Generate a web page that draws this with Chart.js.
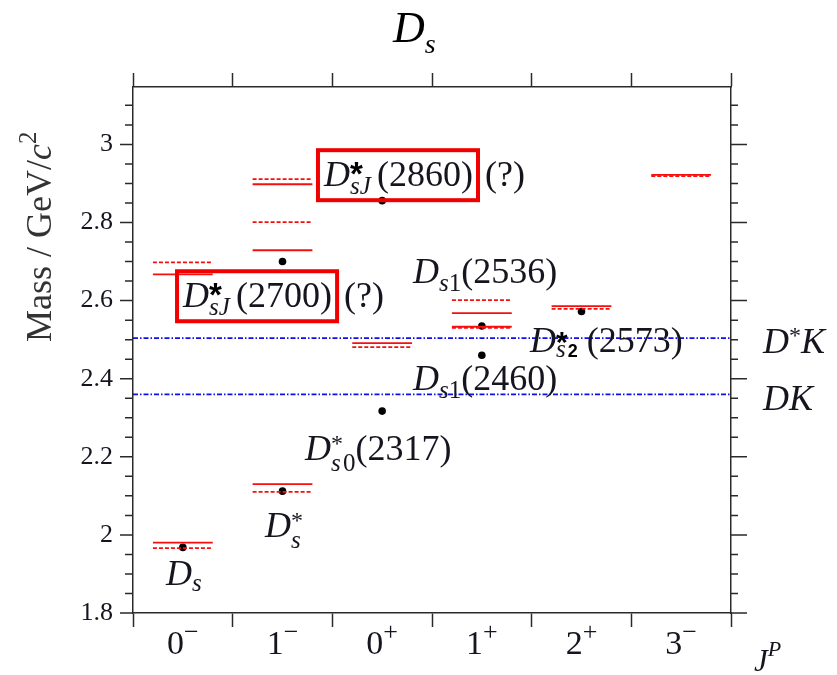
<!DOCTYPE html>
<html>
<head>
<meta charset="utf-8">
<script src="https://cdn.jsdelivr.net/npm/chart.js@4"></script>
<style>
  body { margin: 0; background: #fff; }
</style>
</head>
<body>
<canvas id="grafico" width="837" height="675"></canvas>
<script>
// J^P columns
const jpLabels = ['0−', '1−', '0+', '1+', '2+', '3−'];

// model levels, solid lines (GeV)
const solidCat = [0, 0, 1, 1, 1, 2, 3, 3, 4, 5];
const solidMass = [1.980, 2.667, 2.130, 2.729, 2.898, 2.491, 2.568, 2.533, 2.586, 2.922];

// model levels, dashed lines (GeV)
const dashedCat = [0, 0, 1, 1, 1, 2, 3, 3, 4, 5];
const dashedMass = [1.966, 2.698, 2.110, 2.801, 2.911, 2.481, 2.601, 2.530, 2.579, 2.919];

// measured states (black dots)
const expCat = [0, 1, 2, 3, 3, 4, 1, 2];
const expMass = [1.968, 2.112, 2.317, 2.460, 2.535, 2.572, 2.700, 2.856];

// thresholds D*K, DK
const thresholdMass = [2.504, 2.360];

const yMin = 1.8;
const yMax = 3.147;
const halfW = 0.3;

const SERIF = '"Liberation Serif", "DejaVu Serif", serif';
const SANS = '"Liberation Sans", Arial, sans-serif';
const axisColor = '#2a2a2a';
const textColor = '#15151f';
const red = 'rgb(245, 15, 15)';
const blue = 'rgb(15, 15, 235)';

const niveis = (cats, masses) => {
    let pts = [];
    cats.forEach((c, i) => {
        pts.push({x: c + 0.5 - halfW, y: masses[i]});
        pts.push({x: c + 0.5 + halfW, y: masses[i]});
        pts.push({x: c + 0.5, y: null});
    });
    return pts;
}

const limiares = () => {
    let pts = [];
    thresholdMass.forEach(m => {
        pts.push({x: 0, y: m}, {x: jpLabels.length, y: m}, {x: 3, y: null});
    });
    return pts;
}

const pontos = expCat.map((c, i) => ({x: c + 0.5, y: expMass[i]}));

// text pieces
const D = {t: 'D', f: `italic 36px ${SERIF}`};
const K = {t: 'K', f: `italic 36px ${SERIF}`};
const star = {t: '*', f: `24px ${SERIF}`, dy: -9, keep: true};
const starB = {t: '*', f: `bold 33px ${SANS}`, dy: -1, keep: true, c: '#000'};
const sub = (t, dy = 6) => ({t: t, f: `italic 25px ${SERIF}`, dy: dy});
const subN = (t, dy = 6) => ({t: t, f: `25px ${SERIF}`, dy: dy});
const num = (t) => ({t: t, f: `36px ${SERIF}`});

// labels anchored in data units (x: column units, y: GeV at baseline)
const rotulos = [
    {x: 0.33, y: 1.872, parts: [D, sub('s', 6)]},
    {x: 1.324, y: 1.994, parts: [D, star, sub('s', 11)]},
    {x: 1.726, y: 2.191, parts: [D, star, sub('s', 11), subN('0', 11), num('(2317)')]},
    {x: 2.809, y: 2.371, parts: [D, sub('s', 8), subN('1', 8), num('(2460)')]},
    {x: 2.809, y: 2.644, parts: [D, sub('s', 8), subN('1', 8), num('(2536)')]},
    {x: 3.983, y: 2.468, parts: [D, {t: '*', f: `bold 30px ${SANS}`, dy: 0, keep: true, c: '#000'}, sub('s', 5), {t: '2', f: `bold 18px ${SANS}`, dy: 5, c: '#000'}, num(' (2573)')]},
    {x: 0.502, y: 2.583, box: true, parts: [D, starB, sub('sJ ', 8), num('(2700)')], after: '(?)'},
    {x: 1.916, y: 2.893, box: true, parts: [D, starB, sub('sJ ', 8), num('(2860)')], after: '(?)'},
    {x: 6.32, y: 2.465, parts: [D, {t: '*', f: `24px ${SERIF}`, dy: -10}, K]},
    {x: 6.32, y: 2.319, parts: [D, K]}
];

const escreve = (ctx, x, y, parts) => {
    let kept = 0;
    parts.forEach(p => {
        ctx.font = p.f;
        ctx.fillStyle = p.c || textColor;
        ctx.fillText(p.t, x, y + (p.dy || 0));
        const w = ctx.measureText(p.t).width;
        if (p.keep) {
            kept = w;
        } else {
            x += Math.max(w, kept);
            kept = 0;
        }
    });
    return x;
}

const enfeites = {
    id: 'enfeites',
    afterDraw(chart) {
        const {ctx, chartArea: a} = chart;
        const x = chart.scales.x;
        const y = chart.scales.y;
        ctx.save();
        ctx.textBaseline = 'alphabetic';
        ctx.textAlign = 'left';

        // minor / major ticks on both vertical axes
        ctx.strokeStyle = axisColor;
        ctx.lineWidth = 1.5;
        ctx.beginPath();
        for (let k = 0; ; k++) {
            const v = yMin + k * 0.05;
            if (v > yMax + 1e-9) break;
            const py = y.getPixelForValue(v);
            const major = k % 4 === 0;
            ctx.moveTo(a.left - (major ? 13 : 8), py);
            ctx.lineTo(a.left, py);
            ctx.moveTo(a.right, py);
            ctx.lineTo(a.right + (major ? 16 : 7), py);
        }
        ctx.stroke();

        // J^P labels under the columns
        jpLabels.forEach((lab, i) => {
            const cx = x.getPixelForValue(i + 0.5);
            ctx.font = `34px ${SERIF}`;
            const w1 = ctx.measureText(lab[0]).width;
            ctx.font = `26px ${SERIF}`;
            const w2 = ctx.measureText(lab[1]).width;
            const x0 = cx - (w1 + w2) / 2;
            ctx.fillStyle = textColor;
            ctx.font = `34px ${SERIF}`;
            ctx.fillText(lab[0], x0, 654);
            ctx.font = `26px ${SERIF}`;
            ctx.fillText(lab[1], x0 + w1, 640);
        });

        // J^P axis name
        escreve(ctx, 754, 671, [{t: 'J', f: `italic 31px ${SERIF}`}, {t: 'P', f: `italic 22px ${SERIF}`, dy: -15}]);

        // title
        escreve(ctx, 393, 42, [{t: 'D', f: `italic 44px ${SERIF}`, c: '#000'}, {t: 's', f: `italic 28px ${SERIF}`, dy: 11, c: '#000'}]);

        // y axis name
        ctx.save();
        ctx.translate(51, 342);
        ctx.rotate(-Math.PI / 2);
        escreve(ctx, 0, 0, [
            {t: 'Mass / GeV/', f: `36px ${SERIF}`, c: '#333'},
            {t: 'c', f: `italic 36px ${SERIF}`, c: '#333'},
            {t: '2', f: `25px ${SERIF}`, dy: -15, c: '#333'}
        ]);
        ctx.restore();

        // state names
        rotulos.forEach(r => {
            const px = x.getPixelForValue(r.x);
            const py = y.getPixelForValue(r.y);
            const fim = escreve(ctx, px, py, r.parts);
            if (r.box) {
                ctx.strokeStyle = 'rgb(240, 0, 0)';
                ctx.lineWidth = 4;
                ctx.strokeRect(px - 6, py - 36, fim - px + 11, 50);
                escreve(ctx, fim + 12, py, [num(r.after)]);
            }
        });

        ctx.restore();
    }
}

const config = {
    type: 'line',
    data: {
        datasets: [
            {
                data: niveis(solidCat, solidMass),
                borderColor: red,
                borderWidth: 1.8,
                pointRadius: 0,
                spanGaps: false,
            },
            {
                data: niveis(dashedCat, dashedMass),
                borderColor: red,
                borderWidth: 1.8,
                borderDash: [4, 2],
                pointRadius: 0,
                spanGaps: false,
            },
            {
                data: limiares(),
                borderColor: blue,
                borderWidth: 1.8,
                borderDash: [5, 2, 1.5, 2],
                pointRadius: 0,
                spanGaps: false,
            },
            {
                data: pontos,
                showLine: false,
                pointRadius: 3.8,
                pointBackgroundColor: '#000',
                pointBorderWidth: 0,
            }
        ]
    },
    options: {
        responsive: false,
        animation: false,
        devicePixelRatio: 1,
        layout: {padding: 0},
        plugins: {
            legend: {display: false},
            tooltip: {enabled: false},
        },
        scales: {
            x: {
                type: 'linear',
                position: 'bottom',
                min: 0,
                max: jpLabels.length,
                ticks: {display: false, stepSize: 1},
                grid: {drawOnChartArea: false, tickLength: 14, tickColor: axisColor, tickWidth: 1.5},
                border: {color: axisColor, width: 1.5},
                afterFit: (s) => { s.height = 62 }
            },
            xTop: {
                type: 'linear',
                position: 'top',
                min: 0,
                max: jpLabels.length,
                ticks: {display: false, stepSize: 1},
                grid: {drawOnChartArea: false, tickLength: 14, tickColor: axisColor, tickWidth: 1.5},
                border: {color: axisColor, width: 1.5},
                afterFit: (s) => { s.height = 87 }
            },
            y: {
                type: 'linear',
                position: 'left',
                min: yMin,
                max: yMax,
                ticks: {
                    stepSize: 0.05,
                    autoSkip: false,
                    includeBounds: false,
                    padding: 20,
                    color: textColor,
                    font: {family: SERIF, size: 26},
                    callback: (v) => {
                        const r = Math.round(v * 5);
                        if (Math.abs(v * 5 - r) > 1e-6) return '';
                        return String(parseFloat((r / 5).toFixed(1)));
                    }
                },
                grid: {display: false, drawTicks: false},
                border: {color: axisColor, width: 1.5},
                afterFit: (s) => { s.width = 133 }
            },
            yR: {
                type: 'linear',
                position: 'right',
                min: yMin,
                max: yMax,
                ticks: {display: false},
                grid: {display: false, drawTicks: false},
                border: {color: axisColor, width: 1.5},
                afterFit: (s) => { s.width = 106 }
            }
        }
    },
    plugins: [enfeites]
};

const myChart = new Chart(document.getElementById('grafico'), config);
</script>
</body>
</html>
